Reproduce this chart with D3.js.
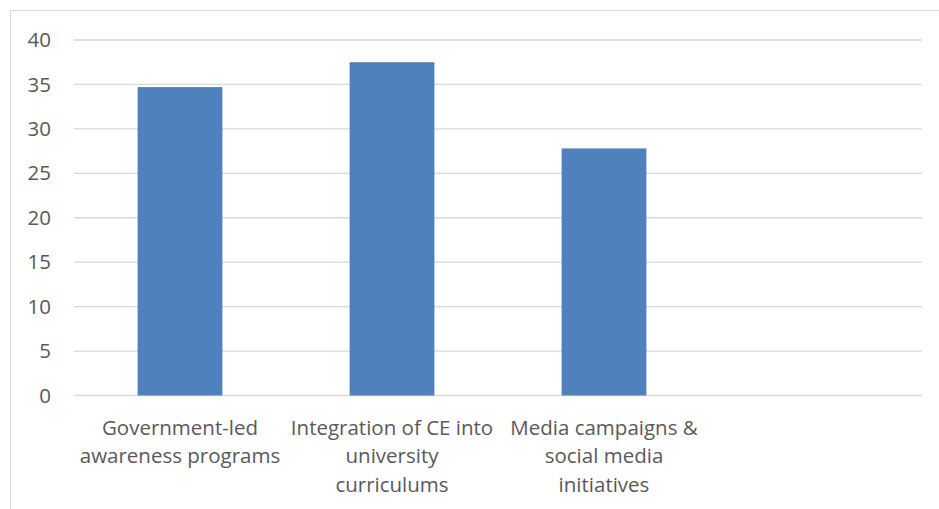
<!DOCTYPE html>
<html>
<head>
<meta charset="utf-8">
<script src="https://cdn.jsdelivr.net/npm/d3@7"></script>
<style>
  html, body { margin: 0; padding: 0; background: #fff; }
  svg { display: block; }
</style>
</head>
<body>
<svg id="chart" width="939" height="509"></svg>
<script>
// Category labels (one entry per wrapped line); the last category slot is left empty
const categories = [
  ["Government-led", "awareness programs"],
  ["Integration of CE into", "university", "curriculums"],
  ["Media campaigns &", "social media", "initiatives"],
  [""]
];
const values = [34.7, 37.5, 27.8, null];
const yTicks = [0, 5, 10, 15, 20, 25, 30, 35, 40];

const W = 939, H = 509;
const margin = { left: 74, right: 17, top: 40, bottom: 113.5 };
const svg = d3.select("#chart");
const font = "'Open Sans', sans-serif";
const fontSize = "20.5px";
const textColor = "#595959";

// chart frame
svg.append("rect")
  .attr("x", 10.5).attr("y", 10.5)
  .attr("width", W + 20).attr("height", H + 20)
  .attr("fill", "none").attr("stroke", "#d9d9d9").attr("stroke-width", 1);

const x = d3.scaleBand()
  .domain(d3.range(categories.length))
  .range([margin.left, W - margin.right])
  .paddingInner(0.6).paddingOuter(0.3);

const y = d3.scaleLinear()
  .domain([0, 40])
  .range([H - margin.bottom, margin.top]);

// horizontal gridlines
svg.append("g")
  .selectAll("line")
  .data(yTicks)
  .join("line")
  .attr("x1", margin.left).attr("x2", W - margin.right)
  .attr("y1", d => y(d)).attr("y2", d => y(d))
  .attr("stroke", "#d9d9d9").attr("stroke-width", 1.3);

// y axis labels
const yAxis = d3.axisLeft(y).tickValues(yTicks).tickSize(0).tickPadding(23);
const gy = svg.append("g").attr("transform", `translate(${margin.left},0)`).call(yAxis);
gy.select(".domain").remove();
gy.selectAll("text")
  .attr("fill", textColor)
  .style("font-family", font).style("font-size", fontSize);

// bars
svg.append("g")
  .selectAll("rect")
  .data(values.map((v, i) => ({ v, i })).filter(d => d.v != null))
  .join("rect")
  .attr("x", d => x(d.i))
  .attr("width", x.bandwidth())
  .attr("y", d => y(d.v))
  .attr("height", d => y(0) - y(d.v))
  .attr("fill", "#4f81bd");

// category labels
const labels = svg.append("g")
  .selectAll("text")
  .data(categories)
  .join("text")
  .attr("text-anchor", "middle")
  .attr("fill", textColor)
  .style("font-family", font).style("font-size", fontSize);
labels.each(function (lines, i) {
  const cx = x(i) + x.bandwidth() / 2;
  d3.select(this).selectAll("tspan")
    .data(lines)
    .join("tspan")
    .attr("x", cx)
    .attr("y", (d, j) => 434.5 + j * 28.5)
    .text(d => d);
});
</script>
</body>
</html>
